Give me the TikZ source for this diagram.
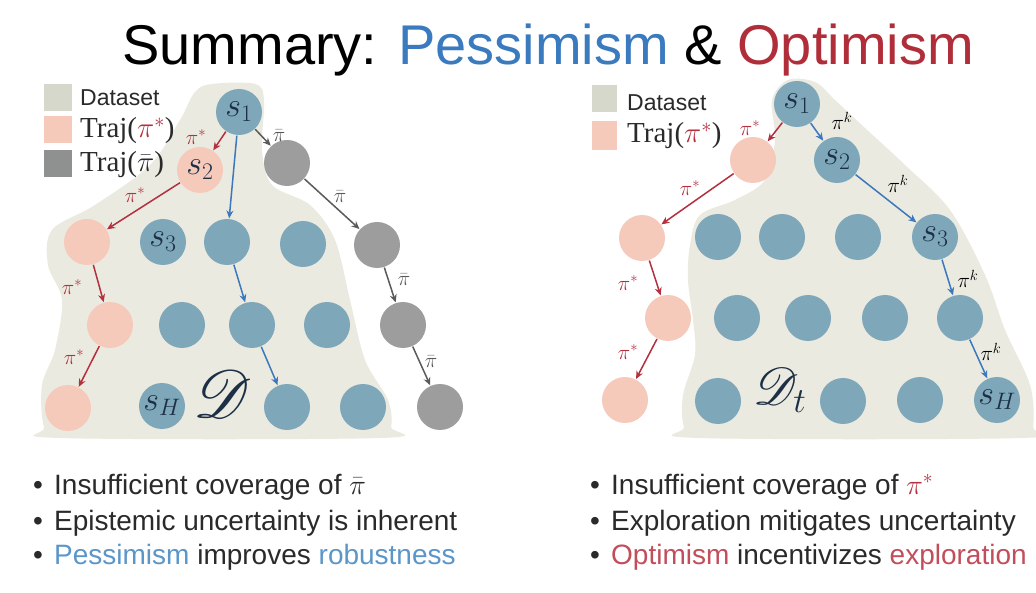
\RequirePackage{fix-cm}
\documentclass[tikz,border=0pt]{standalone}
\usepackage{fontspec}
\setmainfont{Liberation Sans}
\newfontfamily\seriffont{Liberation Serif}
\usepackage{mathrsfs}
\usetikzlibrary{arrows.meta}
\definecolor{blobc}{HTML}{EBEAE0}
\definecolor{dsq}{HTML}{D5D8CA}
\definecolor{nblue}{HTML}{7EA8BA}
\definecolor{npink}{HTML}{F6CABB}
\definecolor{ngrey}{HTML}{9D9D9D}
\definecolor{lgrey}{HTML}{8F9090}
\definecolor{ablue}{HTML}{3B78BD}
\definecolor{ared}{HTML}{B3303F}
\definecolor{agrey}{HTML}{5A5A5A}
\definecolor{tblue}{HTML}{3A7ABF}
\definecolor{tred}{HTML}{B02E3A}
\definecolor{lblue}{HTML}{5B96C9}
\definecolor{lred}{HTML}{C24D5B}
\definecolor{txt}{HTML}{2A2A2A}
\definecolor{slab}{HTML}{1C2F45}
\tikzset{
  st/.style={circle, minimum size=46pt, inner sep=0pt, fill=nblue, text=slab, font=\fontsize{34}{34}\selectfont},
  pk/.style={st, fill=npink},
  gy/.style={st, fill=ngrey},
  arr/.style={-{Stealth[length=8pt,width=7pt]}, line width=1.5pt, shorten >=0.5pt, shorten <=0.5pt},
  barr/.style={arr, draw=ablue, fill=ablue},
  rarr/.style={arr, draw=ared, fill=ared},
  garr/.style={arr, draw=agrey, fill=agrey},
  lab/.style={inner sep=0pt, font=\fontsize{21}{21}\selectfont},
  rlab/.style={lab, text=ared},
  glab/.style={lab, text=agrey},
  klab/.style={lab, text=black},
  blob/.style={fill=blobc},
  legsq/.style={inner sep=0pt, minimum width=28pt, minimum height=27pt},
  legtxt/.style={anchor=base west, inner sep=0pt, text=txt, text height=19pt, text depth=4pt},
  bul/.style={anchor=base west, inner sep=0pt, text=txt, font=\fontsize{28}{28}\selectfont, text height=21pt, text depth=5pt},
  bigD/.style={inner sep=0pt, text=slab, font=\fontsize{24}{24}\selectfont},
}
\begin{document}
\begin{tikzpicture}[x=1pt, y=-1pt]
\useasboundingbox[fill=white] (0,0) rectangle (1036,593);

% title
\node[anchor=base, inner sep=0pt, text=black, font=\fontsize{56}{56}\selectfont] (title) at (548,65)
  {Summary: \textcolor{tblue}{Pessimism} \& \textcolor{tred}{Optimism}};

% dataset blobs
\fill[blob] plot[smooth cycle, tension=0.55] coordinates {
  (212,84) (255,84) (264,100) (262,150) (272,185) (310,205) (335,240) (350,300)
  (365,360) (388,400) (391,427) (380,438) (60,438) (44,427) (42,385) (55,350)
  (62,300) (48,265) (52,230) (95,205) (150,165) (180,120) (195,92)};
\fill[blob] plot[smooth cycle, tension=0.55] coordinates {
  (788,80) (815,82) (835,100) (865,128) (905,165) (950,210) (985,275) (1005,330)
  (1030,385) (1033,427) (1022,438) (698,438) (684,427) (683,395) (695,355)
  (693,320) (688,280) (690,245) (700,215) (735,200) (765,180) (775,140) (772,100)};

% legends
\node[legsq, fill=dsq] (lq1) at (57.5,98) {};
\node[legsq, fill=npink] (lq2) at (57.5,129.5) {};
\node[legsq, fill=lgrey] (lq3) at (57.5,163.5) {};
\node[legtxt, font=\fontsize{23}{23}\selectfont, text height=17pt, text depth=2pt] (lt1) at (80,106) {Dataset};
\node[legtxt, font=\fontsize{29}{29}\selectfont\seriffont] (lt2) at (80,138) {Traj(\textcolor{ared}{$\pi^*$})};
\node[legtxt, font=\fontsize{29}{29}\selectfont\seriffont] (lt3) at (80,172) {Traj($\bar\pi$)};

\node[legsq, minimum width=25pt, fill=dsq] (rq1) at (604.5,98.5) {};
\node[legsq, minimum width=25pt, minimum height=29pt, fill=npink] (rq2) at (604.5,135.5) {};
\node[legtxt, font=\fontsize{23}{23}\selectfont, text height=17pt, text depth=2pt] (rt1) at (627,111) {Dataset};
\node[legtxt, font=\fontsize{29}{29}\selectfont\seriffont] (rt2) at (627,143) {Traj(\textcolor{ared}{$\pi^*$})};

% left panel nodes
\node[st] (L1) at (239,112) {$s_1$};
\node[pk] (L2) at (200,170) {$s_2$};
\node[gy] (G1) at (287,163) {};
\node[pk] (P2) at (87,242) {};
\node[st] (L3) at (163,242) {$s_3$};
\node[st] (B21) at (227,242) {};
\node[st] (B22) at (303,244) {};
\node[gy] (G2) at (377,245) {};
\node[pk] (P3) at (110,325) {};
\node[st] (B31) at (182,325) {};
\node[st] (B32) at (252,325) {};
\node[st] (B33) at (327,325) {};
\node[gy] (G3) at (403,325) {};
\node[pk] (P4) at (68,408) {};
\node[st] (LH) at (162,406) {$s_H$};
\node[st] (B41) at (287,407) {};
\node[st] (B42) at (363,407) {};
\node[gy] (G4) at (440,407) {};
\node[bigD] (Dl) at (223,394) {\scalebox{2.7}{$\mathscr{D}$}};

% left arrows
\draw[barr] (L1) -- (B21);
\draw[barr] (B21) -- (B32);
\draw[barr] (B32) -- (B41);
\draw[rarr] (L1) -- (L2);
\draw[rarr] (L2) -- (P2);
\draw[rarr] (P2) -- (P3);
\draw[rarr] (P3) -- (P4);
\draw[garr] (L1) -- (G1);
\draw[garr] (G1) -- (G2);
\draw[garr] (G2) -- (G3);
\draw[garr] (G3) -- (G4);
\node[rlab] (la1) at (196,137) {$\pi^*$};
\node[rlab] (la2) at (135,195) {$\pi^*$};
\node[rlab] (la3) at (72,287) {$\pi^*$};
\node[rlab] (la4) at (74,357) {$\pi^*$};
\node[glab] (lg1) at (279,136) {$\bar\pi$};
\node[glab] (lg2) at (340,197) {$\bar\pi$};
\node[glab] (lg3) at (404,280) {$\bar\pi$};
\node[glab] (lg4) at (431,362) {$\bar\pi$};

% right panel nodes
\node[st] (R1) at (797,104) {$s_1$};
\node[st] (R2) at (837,160) {$s_2$};
\node[pk] (Q1) at (753,160) {};
\node[pk] (Q2) at (642,238) {};
\node[st] (C21) at (718,237) {};
\node[st] (C22) at (782,237) {};
\node[st] (C23) at (858,237) {};
\node[st] (R3) at (935,237) {$s_3$};
\node[pk] (Q3) at (668,318) {};
\node[st] (C31) at (737,318) {};
\node[st] (C32) at (808,318) {};
\node[st] (C33) at (885,318) {};
\node[st] (C34) at (960,318) {};
\node[pk] (Q4) at (625,400) {};
\node[st] (C41) at (718,401) {};
\node[st] (C42) at (843,401) {};
\node[st] (C43) at (920,400) {};
\node[st] (RH) at (997,400) {$s_H$};
\node[bigD] (Dr) at (780,390) {\scalebox{2.1}{$\mathscr{D}_t$}};

% right arrows
\draw[barr] (R1) -- (R2);
\draw[barr] (R2) -- (R3);
\draw[barr] (R3) -- (C34);
\draw[barr] (C34) -- (RH);
\draw[rarr] (R1) -- (Q1);
\draw[rarr] (Q1) -- (Q2);
\draw[rarr] (Q2) -- (Q3);
\draw[rarr] (Q3) -- (Q4);
\node[klab] (rk1) at (842,121) {$\pi^k$};
\node[klab] (rk2) at (898,184) {$\pi^k$};
\node[klab] (rk3) at (968,279) {$\pi^k$};
\node[klab] (rk4) at (991,352) {$\pi^k$};
\node[rlab] (ra1) at (750,128) {$\pi^*$};
\node[rlab] (ra2) at (690,188) {$\pi^*$};
\node[rlab] (ra3) at (628,283) {$\pi^*$};
\node[rlab] (ra4) at (628,352) {$\pi^*$};

% bullet text
\node[bul] (b1) at (33,494) {\makebox[21pt][l]{\textbullet}Insufficient coverage of $\bar\pi$};
\node[bul] (b2) at (33,530) {\makebox[21pt][l]{\textbullet}Epistemic uncertainty is inherent};
\node[bul] (b3) at (33,564) {\makebox[21pt][l]{\textbullet}\textcolor{lblue}{Pessimism} improves \textcolor{lblue}{robustness}};
\node[bul] (c1) at (590,494) {\makebox[21pt][l]{\textbullet}Insufficient coverage of \textcolor{ared}{$\pi^*$}};
\node[bul] (c2) at (590,530) {\makebox[21pt][l]{\textbullet}Exploration mitigates uncertainty};
\node[bul] (c3) at (590,564) {\makebox[21pt][l]{\textbullet}\textcolor{lred}{Optimism} incentivizes \textcolor{lred}{exploration}};
\end{tikzpicture}
\end{document}
